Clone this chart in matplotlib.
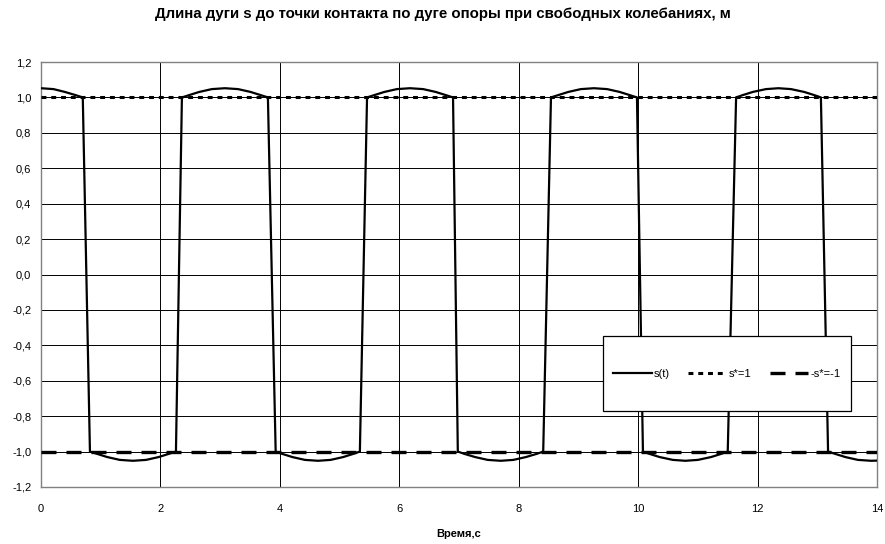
import numpy as np
import matplotlib.pyplot as plt
from matplotlib.patches import Rectangle
from matplotlib.ticker import FuncFormatter

plt.rcParams['font.family'] = ['Liberation Sans', 'DejaVu Sans']

# s(t) read point by point: upper and lower arcs joined by steep jumps
t = [0.00, 0.21, 0.40, 0.58, 0.70,
     0.82, 0.94, 1.11, 1.32, 1.54, 1.76, 1.97, 2.14, 2.26,
     2.36, 2.48, 2.65, 2.86, 3.08, 3.30, 3.51, 3.68, 3.80,
     3.93, 4.04, 4.21, 4.42, 4.64, 4.85, 5.06, 5.23, 5.34,
     5.46, 5.58, 5.75, 5.96, 6.18, 6.40, 6.61, 6.78, 6.90,
     6.98, 7.09, 7.27, 7.48, 7.70, 7.91, 8.12, 8.30, 8.41,
     8.54, 8.66, 8.83, 9.04, 9.26, 9.48, 9.69, 9.86, 9.98,
     10.08, 10.19, 10.36, 10.58, 10.79, 11.00, 11.22, 11.39, 11.50,
     11.64, 11.75, 11.92, 12.14, 12.35, 12.56, 12.78, 12.95, 13.06,
     13.18, 13.30, 13.47, 13.68, 13.90, 14.00]
s = [1.052, 1.047, 1.031, 1.013, 1.000,
     -1.000, -1.013, -1.031, -1.047, -1.052, -1.047, -1.031, -1.013, -1.000,
     1.000, 1.013, 1.031, 1.047, 1.052, 1.047, 1.031, 1.013, 1.000,
     -1.000, -1.013, -1.031, -1.047, -1.052, -1.047, -1.031, -1.013, -1.000,
     1.000, 1.013, 1.031, 1.047, 1.052, 1.047, 1.031, 1.013, 1.000,
     -1.000, -1.013, -1.031, -1.047, -1.052, -1.047, -1.031, -1.013, -1.000,
     1.000, 1.013, 1.031, 1.047, 1.052, 1.047, 1.031, 1.013, 1.000,
     -1.000, -1.013, -1.031, -1.047, -1.052, -1.047, -1.031, -1.013, -1.000,
     1.000, 1.013, 1.031, 1.047, 1.052, 1.047, 1.031, 1.013, 1.000,
     -1.000, -1.013, -1.031, -1.047, -1.052, -1.051]

t_limits = [0, 14]
s_star = 1.0
x_ticks = [0, 2, 4, 6, 8, 10, 12, 14]
y_ticks = [-1.2, -1.0, -0.8, -0.6, -0.4, -0.2, 0.0, 0.2, 0.4, 0.6, 0.8, 1.0, 1.2]

fig = plt.figure(figsize=(8.85, 5.44), dpi=100)
ax = fig.add_axes([0.0463, 0.1048, 0.9447, 0.7812])

ax.plot(t_limits, [s_star, s_star], color='black', lw=2.2,
        dashes=(1.6, 1.6), label='s*=1', zorder=3)
ax.plot(t_limits, [-s_star, -s_star], color='black', lw=2.4,
        dashes=(4.5, 3.0), label='-s*=-1', zorder=3)
ax.plot(t, s, color='black', lw=1.6, label='s(t)', zorder=4)

ax.set_xlim(0, 14)
ax.set_ylim(-1.2, 1.2)
ax.set_xticks(x_ticks)
ax.set_yticks(y_ticks)
ax.yaxis.set_major_formatter(FuncFormatter(lambda v, p: f'{v:.1f}'.replace('.', ',').replace('-0,0', '0,0')))
ax.tick_params(axis='both', labelsize=8, length=0)
ax.tick_params(axis='x', pad=12)
ax.tick_params(axis='y', pad=7)
ax.grid(True, color='black', lw=0.7)
ax.set_axisbelow(True)
for sp in ax.spines.values():
    sp.set_color('#808080')
    sp.set_linewidth(1.0)

ax.set_xlabel('Время,с', fontsize=8, fontweight='bold', labelpad=11)
fig.text(0.5, 0.988, 'Длина дуги s до точки контакта по дуге опоры при свободных колебаниях, м',
         ha='center', va='top', fontsize=10.8, fontweight='bold')

# legend box
box = (0.672, 0.179, 0.297, 0.176)
ax.add_patch(Rectangle(box[:2], box[2], box[3], transform=ax.transAxes,
                       facecolor='white', edgecolor='black', lw=0.9, zorder=5))
handles, labels = ax.get_legend_handles_labels()
order = [2, 0, 1]
leg = ax.legend([handles[i] for i in order], [labels[i] for i in order],
                loc='center', bbox_to_anchor=box, ncol=3, frameon=False,
                fontsize=8, handlelength=3.5, handletextpad=0.2, columnspacing=1.6)
leg.set_zorder(6)

fig.savefig('out.png', dpi=100)
